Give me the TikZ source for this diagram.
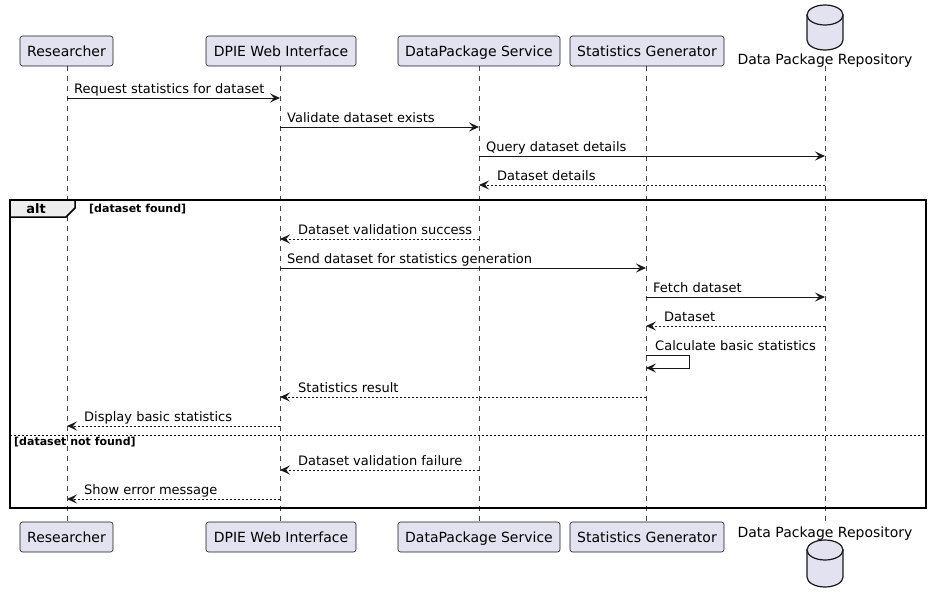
\documentclass[tikz,border=0pt]{standalone}
\usepackage{fontspec}
\setmainfont{DejaVu Sans}
\usetikzlibrary{arrows.meta}
\definecolor{partfill}{HTML}{E2E2F0}
\definecolor{linec}{HTML}{181818}
\definecolor{tabfill}{HTML}{EEEEEE}
\begin{document}
\begin{tikzpicture}[x=1pt,y=-1pt,
  part/.style={draw=linec, fill=partfill, rounded corners=2.5pt, line width=0.6pt,
    minimum height=30pt, inner sep=0pt, text height=11.5pt, text depth=1.3pt,
    font=\fontsize{14}{16}\selectfont},
  lifeline/.style={draw=linec!80, dash pattern=on 5pt off 5pt, line width=0.5pt},
  msg/.style={draw=linec, line width=0.9pt, -{Stealth[length=10pt,width=9pt,inset=4pt]}},
  reply/.style={msg, dash pattern=on 2pt off 2pt},
  mlabel/.style={anchor=base west, inner sep=0pt, font=\fontsize{13}{15}\selectfont},
  dbbody/.style={draw=linec, fill=partfill, line width=1.2pt},
  dblabel/.style={font=\fontsize{14}{16}\selectfont, inner sep=0pt, text height=11.5pt, text depth=1.3pt},
  frame/.style={draw=black, line width=1.5pt}
]
\useasboundingbox (0,0) rectangle (932,602);
% lifelines
\foreach \n/\x in {r/67,w/280,s/479,g/646,d/825}{
  \coordinate (\n top) at (\x,66);
  \coordinate (\n bot) at (\x,522);
  \draw[lifeline] (\n top) -- (\n bot);
}
% participants top
\node[part, minimum width=93pt] (rt) at (66.5,51) {Researcher};
\node[part, minimum width=150pt] (wt) at (281,51) {DPIE Web Interface};
\node[part, minimum width=162pt] (st) at (479,51) {DataPackage Service};
\node[part, minimum width=154pt] (gt) at (647,51) {Statistics Generator};
% participants bottom
\node[part, minimum width=93pt] (rb) at (66.5,537) {Researcher};
\node[part, minimum width=150pt] (wb) at (281,537) {DPIE Web Interface};
\node[part, minimum width=162pt] (sb) at (479,537) {DataPackage Service};
\node[part, minimum width=154pt] (gb) at (647,537) {Statistics Generator};
% database top (in these coordinates an arc through 90 degrees goes downward)
\draw[dbbody] (807,15) -- (807,40) arc[start angle=180,end angle=0,x radius=18,y radius=10]
  -- (843,15) -- cycle;
\draw[dbbody] (825,15) ellipse[x radius=18,y radius=10];
\node[dblabel] (dt) at (825,59) {Data Package Repository};
% database bottom
\draw[dbbody] (807,550) -- (807,577) arc[start angle=180,end angle=0,x radius=18,y radius=10]
  -- (843,550) -- cycle;
\draw[dbbody] (825,550) ellipse[x radius=18,y radius=10];
\node[dblabel] (db) at (825,532) {Data Package Repository};

% messages
\newcommand{\rmsg}[4]{% y, from x, to x, style
  \coordinate (a#1) at (#2,#1); \coordinate (b#1) at (#3,#1);
  \draw[#4] (a#1) -- (b#1);}
\rmsg{98}{67}{280}{msg}
\node[mlabel] (m1) at (74,93) {Request statistics for dataset};
\rmsg{127}{280}{479}{msg}
\node[mlabel] (m2) at (287,122) {Validate dataset exists};
\rmsg{156}{479}{825}{msg}
\node[mlabel] (m3) at (486,151) {Query dataset details};
\rmsg{185}{825}{479}{reply}
\node[mlabel] (m4) at (497,180) {Dataset details};

% alt frame
\draw[frame] (10,200) rectangle (926,508);
\draw[frame, fill=tabfill] (10,200) -- (75,200) -- (75,208) -- (66,217) -- (10,217) -- cycle;
\node[font=\bfseries\fontsize{13}{15}\selectfont, inner sep=0pt] (alt) at (36,208.5) {alt};
\node[font=\bfseries\fontsize{11}{13}\selectfont, anchor=west, inner sep=0pt] (g1) at (89,209) {[dataset found]};

\rmsg{239}{479}{280}{reply}
\node[mlabel] (m5) at (298,234) {Dataset validation success};
\rmsg{268}{280}{646}{msg}
\node[mlabel] (m6) at (287,263) {Send dataset for statistics generation};
\rmsg{297}{646}{825}{msg}
\node[mlabel] (m7) at (653,292) {Fetch dataset};
\rmsg{326}{825}{646}{reply}
\node[mlabel] (m8) at (664,321) {Dataset};
% self message
\coordinate (s1) at (646,355); \coordinate (s2) at (689,355);
\coordinate (s3) at (689,368); \coordinate (s4) at (646,368);
\draw[msg] (s1) -- (s2) -- (s3) -- (s4);
\node[mlabel] (m9) at (655,350) {Calculate basic statistics};
\rmsg{397}{646}{280}{reply}
\node[mlabel] (m10) at (298,392) {Statistics result};
\rmsg{426}{280}{67}{reply}
\node[mlabel] (m11) at (84,421) {Display basic statistics};

% else separator
\coordinate (e1) at (10,435); \coordinate (e2) at (926,435);
\draw[draw=black, line width=0.8pt, dash pattern=on 2pt off 2pt] (e1) -- (e2);
\node[font=\bfseries\fontsize{11}{13}\selectfont, anchor=west, inner sep=0pt] (g2) at (14,442) {[dataset not found]};

\rmsg{470}{479}{280}{reply}
\node[mlabel] (m12) at (298,465) {Dataset validation failure};
\rmsg{499}{280}{67}{reply}
\node[mlabel] (m13) at (84,494) {Show error message};
\end{tikzpicture}
\end{document}
